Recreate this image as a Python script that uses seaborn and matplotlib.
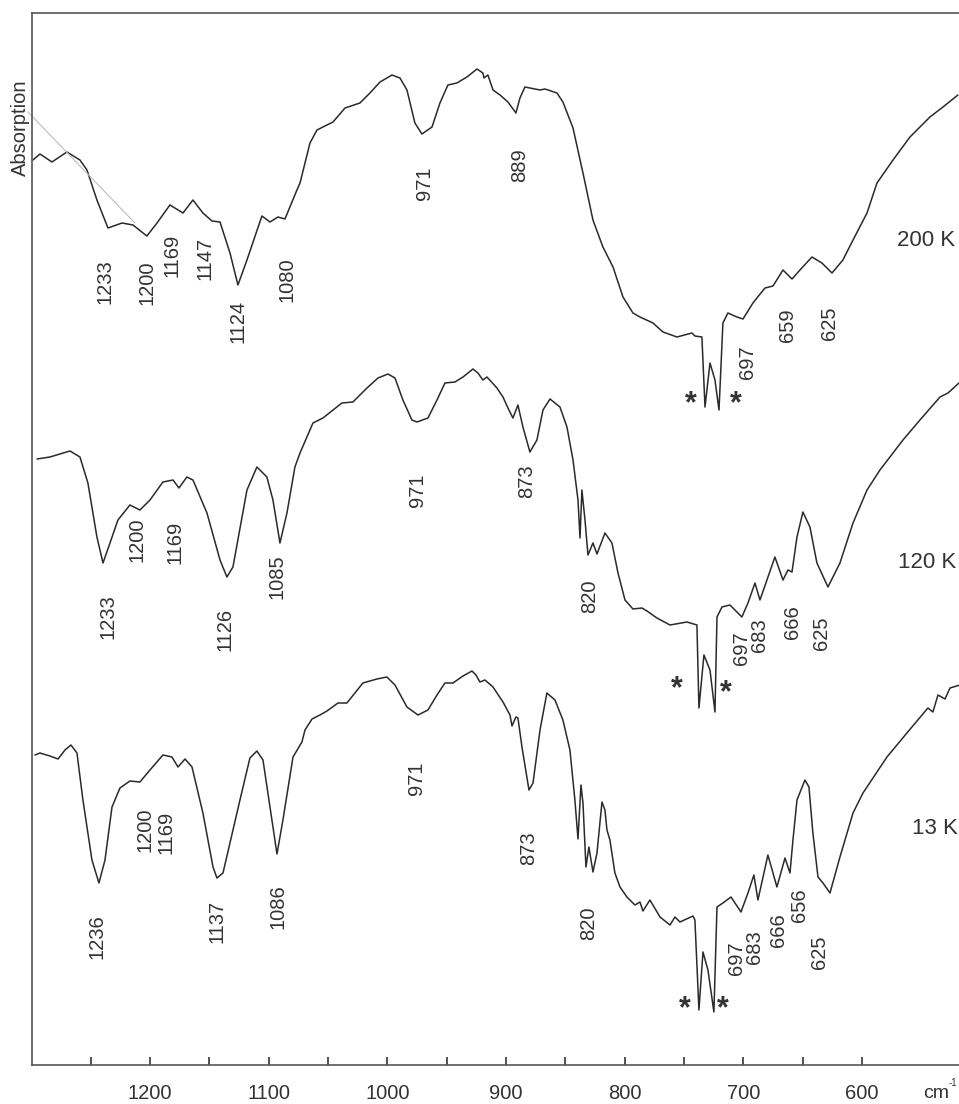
import numpy as np
import pandas as pd
import matplotlib
matplotlib.use("Agg")
import matplotlib.pyplot as plt
import matplotlib.transforms as mtransforms
import seaborn as sns

# ---------------- data (wavenumber in cm^-1, signal in arbitrary units) ----------------
wn_200K = [1298.6, 1292.7, 1282.6, 1270.0, 1259.0, 1253.1, 1244.7, 1235.4, 1223.6, 1214.3,
           1202.6, 1194.1, 1183.2, 1172.2, 1163.8, 1155.4, 1147.8, 1141.0, 1132.6, 1125.9,
           1118.3, 1105.7, 1098.9, 1092.2, 1086.3, 1076.2, 1073.6, 1065.2, 1059.3, 1054.3,
           1045.8, 1035.7, 1023.1, 1014.7, 1006.2, 996.1, 989.4, 983.5, 976.8, 970.9,
           962.4, 955.7, 949.0, 941.4, 933.0, 924.5, 919.5, 918.6, 915.3, 911.0,
           905.1, 898.4, 891.7, 888.3, 884.1, 871.4, 867.2, 857.1, 852.1, 843.6,
           835.2, 826.8, 818.4, 809.9, 801.5, 793.1, 787.2, 776.2, 767.8, 756.0,
           743.4, 740.9, 735.0, 732.4, 728.2, 724.0, 720.6, 717.3, 713.1, 705.5,
           700.4, 692.0, 681.9, 675.1, 666.7, 659.1, 652.4, 642.3, 633.9, 625.4,
           616.2, 607.7, 595.9, 587.5, 574.0, 559.7, 542.9, 531.9, 519.3]
ab_200K = [905, 911, 903, 913, 905, 895, 865, 837, 842, 840,
           829, 842, 860, 852, 865, 852, 844, 843, 812, 780,
           805, 849, 843, 848, 846, 875, 882, 922, 935, 938,
           943, 957, 962, 972, 983, 990, 987, 975, 942, 931,
           938, 962, 980, 982, 988, 996, 992, 987, 990, 975,
           970, 963, 952, 967, 978, 975, 976, 972, 963, 937,
           892, 845, 818, 798, 768, 752, 748, 742, 733, 728,
           732, 729, 728, 658, 702, 685, 655, 742, 752, 748,
           746, 762, 777, 779, 795, 786, 795, 808, 802, 792,
           805, 825, 852, 882, 905, 928, 948, 958, 970]

wn_120K = [1295.2, 1284.3, 1267.4, 1259.0, 1252.3, 1244.7, 1239.6, 1233.7, 1227.0, 1216.9,
           1208.5, 1200.0, 1189.1, 1180.6, 1175.6, 1168.9, 1163.8, 1152.0, 1141.0, 1135.2,
           1130.1, 1118.3, 1109.9, 1101.5, 1096.4, 1090.5, 1084.6, 1077.9, 1073.6, 1067.8,
           1062.7, 1054.3, 1038.3, 1029.0, 1017.2, 1007.9, 999.5, 993.6, 986.9, 979.3,
           975.1, 965.8, 958.2, 951.5, 943.1, 936.3, 927.9, 923.7, 919.5, 916.1,
           907.7, 902.6, 898.4, 894.2, 890.0, 885.8, 879.9, 874.0, 868.9, 863.0,
           854.6, 848.7, 843.6, 839.4, 837.7, 836.1, 833.5, 831.0, 826.8, 823.4,
           816.7, 810.8, 805.7, 799.8, 793.1, 785.5, 781.3, 772.9, 761.9, 747.6,
           739.2, 737.5, 733.3, 728.2, 724.0, 722.3, 718.1, 711.4, 701.3, 696.2,
           690.3, 686.1, 680.2, 673.5, 666.7, 662.5, 659.1, 654.9, 649.9, 644.0,
           638.1, 628.8, 618.7, 607.7, 595.9, 585.0, 565.6, 551.3, 534.4, 527.7, 518.4]
ab_120K = [606, 608, 614, 608, 582, 528, 502, 522, 545, 560,
           555, 565, 583, 585, 577, 588, 585, 552, 505, 488,
           498, 575, 598, 588, 565, 522, 552, 598, 612, 628,
           642, 647, 662, 663, 677, 687, 691, 687, 665, 645,
           643, 647, 665, 682, 683, 688, 696, 692, 685, 688,
           677, 668, 657, 647, 660, 638, 613, 625, 655, 666,
           658, 638, 605, 565, 527, 575, 545, 510, 522, 511,
           532, 522, 492, 465, 456, 457, 454, 447, 440, 443,
           440, 357, 410, 395, 353, 448, 458, 460, 448, 462,
           482, 465, 485, 508, 485, 495, 493, 528, 553, 538,
           502, 478, 502, 542, 575, 595, 625, 645, 668, 672, 682]

wn_13K = [1296.9, 1292.7, 1284.3, 1277.5, 1271.6, 1266.6, 1261.5, 1256.5, 1248.9, 1243.0,
          1237.9, 1232.0, 1225.3, 1216.9, 1208.5, 1200.0, 1189.1, 1181.5, 1176.4, 1170.5,
          1164.6, 1155.4, 1146.9, 1143.6, 1138.5, 1124.2, 1115.8, 1109.9, 1104.8, 1098.9,
          1093.0, 1088.0, 1079.5, 1072.0, 1069.4, 1063.5, 1056.8, 1050.9, 1041.6, 1034.1,
          1020.6, 1008.8, 1000.4, 993.6, 983.5, 974.2, 965.8, 958.2, 951.5, 944.7,
          936.3, 928.7, 925.4, 922.0, 917.8, 911.0, 902.6, 896.7, 895.0, 891.7,
          890.0, 886.6, 880.7, 877.3, 871.4, 865.6, 858.8, 852.1, 846.2, 842.0,
          839.4, 836.9, 835.2, 832.7, 830.2, 826.8, 823.4, 819.2, 816.7, 815.0,
          812.5, 808.3, 804.0, 798.2, 791.4, 787.2, 784.7, 778.8, 770.3, 761.9,
          757.7, 753.5, 742.5, 740.9, 737.5, 734.1, 729.9, 724.9, 722.3, 717.3,
          710.5, 702.1, 696.2, 691.2, 687.8, 679.4, 671.8, 665.0, 660.8, 658.3,
          654.9, 648.2, 644.8, 641.5, 637.2, 633.0, 627.1, 618.7, 607.7, 599.3,
          579.1, 562.3, 544.6, 540.4, 536.1, 530.2, 526.0, 517.6]
ab_13K = [310, 312, 309, 306, 315, 320, 312, 265, 205, 182,
          205, 258, 277, 284, 283, 295, 310, 308, 298, 306,
          298, 252, 198, 187, 192, 265, 307, 314, 305, 258,
          211, 245, 308, 323, 335, 346, 350, 354, 362, 362,
          382, 386, 388, 380, 358, 350, 355, 370, 382, 382,
          389, 394, 390, 383, 385, 378, 363, 350, 339, 348,
          347, 318, 275, 282, 335, 372, 365, 345, 315, 265,
          226, 280, 262, 198, 218, 193, 212, 263, 255, 235,
          225, 192, 178, 168, 160, 163, 154, 165, 148, 140,
          148, 143, 149, 145, 55, 113, 95, 53, 158, 162,
          168, 153, 172, 190, 165, 210, 178, 207, 192, 225,
          265, 285, 278, 232, 188, 182, 172, 208, 252, 272,
          308, 332, 357, 353, 370, 366, 377, 380]

# peak annotations: (label, x position [cm^-1], y position [a.u.])
peaks_200K = [("1233", 1237.9, 783), ("1200", 1202.6, 782), ("1169", 1181.5, 810),
              ("1147", 1153.7, 807), ("1124", 1125.9, 744), ("1080", 1084.6, 785),
              ("971", 968.3, 882), ("889", 888.3, 900), ("697", 696.2, 703),
              ("659", 662.5, 740), ("625", 627.1, 742)]
peaks_120K = [("1233", 1235.4, 448), ("1200", 1211.0, 525), ("1169", 1179.0, 523),
              ("1126", 1136.8, 436), ("1085", 1093.0, 488), ("971", 974.2, 575),
              ("873", 882.4, 584), ("820", 829.3, 469), ("697", 701.3, 417),
              ("683", 686.1, 430), ("666", 658.3, 443), ("625", 633.9, 432)]
peaks_13K = [("1236", 1244.7, 128), ("1200", 1204.2, 235), ("1169", 1186.5, 233),
             ("1137", 1143.6, 144), ("1086", 1092.2, 158), ("971", 975.1, 287),
             ("873", 880.7, 217), ("820", 830.2, 142), ("697", 705.5, 107),
             ("683", 690.3, 118), ("666", 670.1, 135), ("656", 652.4, 160),
             ("625", 635.6, 113)]
stars = [(744.2, 667), (706.3, 667), (756.0, 382), (714.7, 378), (749.3, 62), (717.3, 62)]
temps = [("200 K", 546.3, 825), ("120 K", 545.4, 502), ("13 K", 538.7, 237)]
xticks = [1200, 1100, 1000, 900, 800, 700, 600]

# ---------------- figure ----------------
sns.set_theme(style="white")
plt.rcParams["font.family"] = ["Liberation Sans", "DejaVu Sans"]
TXT = "#333333"
LINE = "#2a2a2a"

fig = plt.figure(figsize=(9.59, 11.04), dpi=100)
ax = fig.add_axes([32 / 959, 39 / 1104, 927 / 959, 1052 / 1104])

frames = []
for name, w, a in [("200K", wn_200K, ab_200K), ("120K", wn_120K, ab_120K), ("13K", wn_13K, ab_13K)]:
    frames.append(pd.DataFrame({"wn": w, "ab": a, "series": name}))
df = pd.concat(frames, ignore_index=True)

for name in ["200K", "120K", "13K"]:
    sns.lineplot(data=df[df.series == name], x="wn", y="ab", sort=False, estimator=None,
                 color=LINE, lw=1.1, ax=ax, legend=False,
                 solid_joinstyle="round", solid_capstyle="round")

ax.set_xlim(1299.4, 518.4)
ax.set_ylim(0, 1052)

# axes styling
for side in ["left", "top", "bottom"]:
    ax.spines[side].set_color("#555555")
    ax.spines[side].set_linewidth(1.2)
ax.spines["right"].set_visible(False)
ax.set_yticks([])
ax.set_xticks(xticks)
ax.set_xticks([x + 50 for x in xticks], minor=True)
ax.tick_params(axis="x", which="both", direction="in", length=5.5, width=1.2,
               color="#333333", bottom=True, top=False)
ax.tick_params(axis="x", which="major", labelsize=14.5, labelcolor=TXT, pad=14)
ax.set_xlabel("")
ax.set_ylabel("")

trans = mtransforms.blended_transform_factory(ax.transData, ax.transAxes)
ax.text(549.0, -0.0275, "cm", transform=trans, ha="left", va="center",
        fontsize=14, color=TXT, clip_on=False)
ax.text(527.0, -0.0175, "-1", transform=trans, ha="left", va="center",
        fontsize=7, color=TXT, clip_on=False)

ax.text(1309.5, 937, "Absorption", rotation=90, ha="center", va="center",
        fontsize=14.5, color=TXT, clip_on=False)
ax.plot([1302.8, 1212.7], [953, 842], color="#bdbdbd", lw=0.8, clip_on=False)

for group in (peaks_200K, peaks_120K, peaks_13K):
    for lab, x, y in group:
        ax.text(x, y, lab, rotation=90, ha="center", va="center", fontsize=14.5, color=TXT)

for x, y in stars:
    ax.text(x, y - 6, "*", ha="center", va="center", fontsize=22, fontweight="bold", color=TXT)

for lab, x, y in temps:
    ax.text(x, y, lab, ha="center", va="center", fontsize=16, color=TXT)

fig.savefig("out.png", dpi=100)
